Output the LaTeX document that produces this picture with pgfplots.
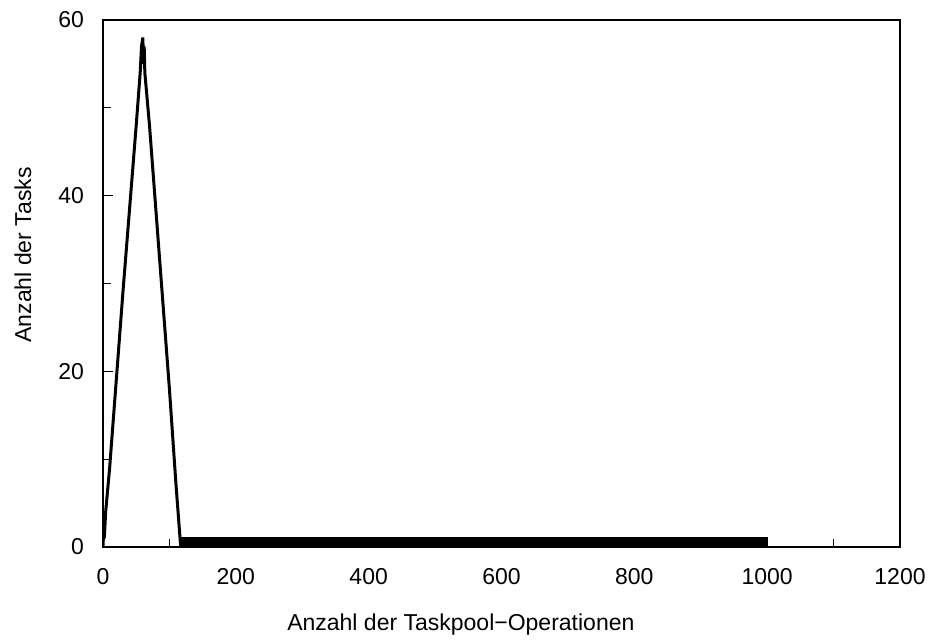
\documentclass[border=0pt]{standalone}
\usepackage{fontspec}
\setmainfont{Liberation Sans}
\usepackage{pgfplots}
\pgfplotsset{compat=1.18}

\begin{document}
\begin{tikzpicture}
\path[use as bounding box] (-51.5pt,-47pt) rectangle (414pt,273.5pt);
\begin{axis}[
    scale only axis,
    width=398.5pt,
    height=263.5pt,
    xmin=0, xmax=1200,
    ymin=0, ymax=60,
    xtick={0,200,...,1200},
    ytick={0,20,40,60},
    minor x tick num=1,
    minor y tick num=1,
    tick align=inside,
    xtick pos=left,
    ytick pos=left,
    major tick length=5pt,
    minor tick length=4pt,
    axis line style={line width=1pt},
    every tick/.style={black, line width=0.6pt},
    /pgf/number format/assume math mode=true,
    /pgf/number format/1000 sep={},
    tick label style={font=\fontsize{11.5}{13.8}\selectfont},
    xticklabel style={yshift=-7pt},
    yticklabel style={xshift=-6pt},
    label style={font=\fontsize{11.5}{13.8}\selectfont},
    xlabel={Anzahl der Taskpool\textminus Operationen},
    ylabel={Anzahl der Tasks},
    xlabel style={at={(axis description cs:0.449,-0.1575)}, anchor=base},
    ylabel style={at={(axis description cs:-0.0903,0.554)}, anchor=base, rotate=0},
]
% band of counts 0/1 from 117 to 1000
\addplot[fill=black, draw=none] coordinates {
    (117,0) (117,1.1) (1000,1.1) (1000,0)
} -- cycle;
\addplot[black, line width=1.5pt, line join=miter] coordinates {
    (0,0) (1,2) (2,1) (4,4) (10,9) (20,19) (30,29) (40,38.5) (50,48)
    (56,54) (58,57) (60,58) (61,55) (62,57) (63,54) (70,48) (80,38)
    (90,28) (100,18) (110,7) (117,0)
};
\end{axis}
\end{tikzpicture}
\end{document}
